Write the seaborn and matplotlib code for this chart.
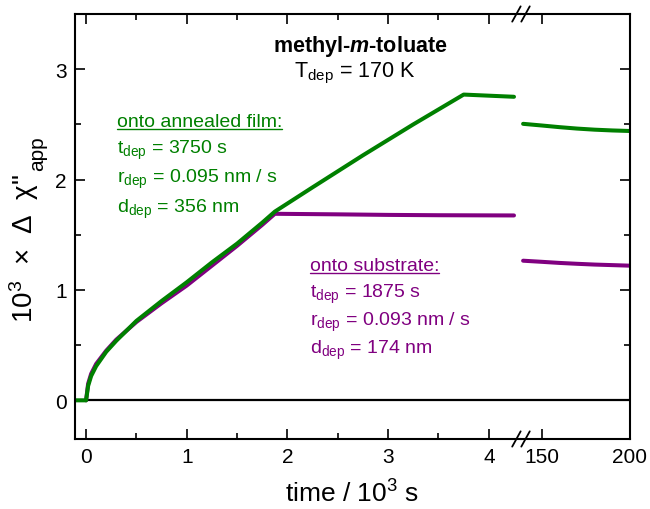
import matplotlib
matplotlib.use("Agg")
import matplotlib.pyplot as plt
import matplotlib.lines as mlines
from matplotlib.ticker import MultipleLocator
import seaborn as sns

# deposition curves, time in 10^3 s (left part) and 10^3 s (right part after break)
t_left = [-0.11, 0.0, 0.02, 0.05, 0.1, 0.2, 0.3, 0.5, 0.75, 1.0, 1.25, 1.5, 1.75, 1.875,
          2.25, 2.75, 3.25, 3.75, 4.0, 4.25]
film_left = [0.0, 0.0, 0.13, 0.22, 0.31, 0.44, 0.54, 0.72, 0.90, 1.07, 1.25, 1.42, 1.61, 1.71,
             1.93, 2.22, 2.50, 2.77, 2.76, 2.75]
t_sub_left = [0.0, 0.02, 0.05, 0.1, 0.2, 0.3, 0.5, 0.75, 1.0, 1.25, 1.5, 1.75, 1.875,
              2.5, 3.0, 3.5, 4.25]
sub_left = [0.0, 0.15, 0.24, 0.33, 0.45, 0.55, 0.71, 0.88, 1.04, 1.22, 1.40, 1.59, 1.69,
            1.685, 1.68, 1.677, 1.675]

t_right = [139.5, 150, 160, 170, 180, 190, 200]
film_right = [2.505, 2.49, 2.475, 2.462, 2.452, 2.445, 2.44]
sub_right = [1.265, 1.255, 1.245, 1.237, 1.23, 1.225, 1.22]

green = "#008000"
purple = "#800080"

sns.set_theme(style="ticks")
plt.rcParams["font.family"] = ["Liberation Sans", "DejaVu Sans"]
plt.rcParams["mathtext.fontset"] = "custom"
plt.rcParams["mathtext.rm"] = "Liberation Sans"
plt.rcParams["mathtext.it"] = "Liberation Sans:italic:bold"
plt.rcParams["mathtext.bf"] = "Liberation Sans:bold"
plt.rcParams["text.color"] = "black"

fig = plt.figure(figsize=(6.5, 5.1), dpi=100)
ax1 = fig.add_axes([0.1154, 0.1373, 0.6862, 0.8333])
ax2 = fig.add_axes([0.8015, 0.1373, 0.1677, 0.8333])

for ax in (ax1, ax2):
    ax.axhline(0, color="black", lw=1.6, zorder=1)
    ax.set_ylim(-0.35, 3.5)
    ax.yaxis.set_major_locator(MultipleLocator(1))
    ax.yaxis.set_minor_locator(MultipleLocator(0.5))
    ax.tick_params(which="both", direction="in", top=True, right=True, width=1.2,
                   labelsize=15, colors="black", pad=6)
    ax.tick_params(which="major", length=7)
    ax.tick_params(which="minor", length=4)
    for sp in ax.spines.values():
        sp.set_linewidth(1.5)
        sp.set_color("black")

sns.lineplot(x=t_sub_left, y=sub_left, ax=ax1, color=purple, lw=2.9, sort=False)
sns.lineplot(x=t_left, y=film_left, ax=ax1, color=green, lw=2.9, sort=False)
sns.lineplot(x=t_right, y=sub_right, ax=ax2, color=purple, lw=2.9, sort=False)
sns.lineplot(x=t_right, y=film_right, ax=ax2, color=green, lw=2.9, sort=False)

ax1.set_xlim(-0.11, 4.32)
ax1.xaxis.set_major_locator(MultipleLocator(1))
ax1.xaxis.set_minor_locator(MultipleLocator(0.5))
ax1.spines["right"].set_visible(False)
ax1.tick_params(which="both", right=False)

ax2.set_xlim(138.3, 200)
ax2.set_xticks([150, 200])
ax2.spines["left"].set_visible(False)
ax2.tick_params(which="both", left=False, labelleft=False)

# break marks
for dx in (-0.007, 0.007):
    for yy in (0.0, 1.0):
        fig.add_artist(mlines.Line2D([0.8015 + dx - 0.0065, 0.8015 + dx + 0.0065],
                                     [0.1373 + yy * 0.8333 - 0.015, 0.1373 + yy * 0.8333 + 0.015],
                                     color="black", lw=1.3))

fig.text(0.542, 0.031, "time / 10$^3$ s", ha="center", va="center", fontsize=19)
ylab = fig.text(0.037, 1 - 323 / 510, "10$^3$  ×  Δ  χ\"", ha="center", va="bottom",
                rotation=90, fontsize=20)

ax1.text(0.639, 0.925, "methyl-$\\mathit{m}$-toluate", transform=ax1.transAxes,
         ha="center", va="center", fontsize=15.5, fontweight="bold")
ax1.text(0.628, 0.862, "T$_{\\rm dep}$ = 170 K", transform=ax1.transAxes,
         ha="center", va="center", fontsize=15.5)

film_lines = ["onto annealed film:", "t$_{\\rm dep}$ = 3750 s",
              "r$_{\\rm dep}$ = 0.095 nm / s", "d$_{\\rm dep}$ = 356 nm"]
sub_lines = ["onto substrate:", "t$_{\\rm dep}$ = 1875 s",
             "r$_{\\rm dep}$ = 0.093 nm / s", "d$_{\\rm dep}$ = 174 nm"]
film_base = [127, 154, 183, 213]
sub_base = [271, 298, 326, 354]

heads = []
for lines, x0, bases, col in ((film_lines, 117, film_base, green),
                              (sub_lines, 310, sub_base, purple)):
    for i, s in enumerate(lines):
        t = fig.text(x0 / 650, 1 - bases[i] / 510, s, color=col, fontsize=14,
                     ha="left", va="baseline")
        if i == 0:
            heads.append((t, col))

fig.canvas.draw()
renderer = fig.canvas.get_renderer()
for t, col in heads:
    bb = t.get_window_extent(renderer).transformed(fig.transFigure.inverted())
    fig.add_artist(mlines.Line2D([bb.x0, bb.x1], [bb.y0 + 0.002, bb.y0 + 0.002],
                                 color=col, lw=1.0))

# subscript "app" placed just after the y label
yb = ylab.get_window_extent(renderer).transformed(fig.transFigure.inverted())
fig.text(0.058, yb.y1 + 0.006, "app", ha="center", va="bottom", rotation=90, fontsize=15)

fig.savefig("out.png", dpi=100)
plt.close(fig)
